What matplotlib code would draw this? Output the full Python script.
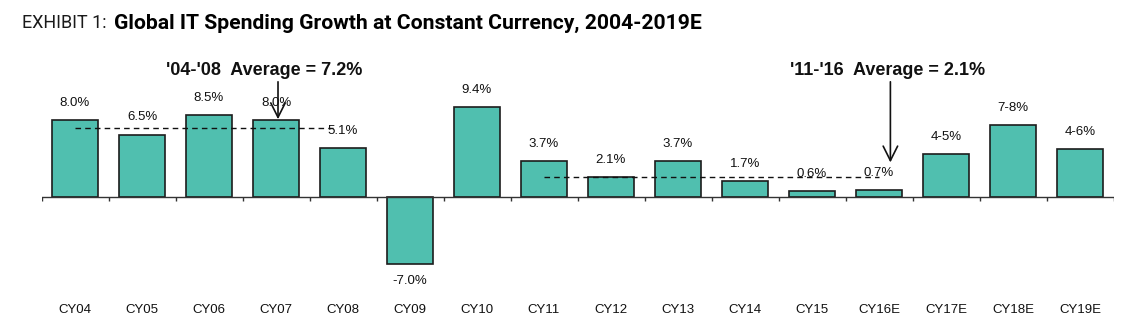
import matplotlib
matplotlib.use("Agg")
import matplotlib.pyplot as plt

categories = ["CY04", "CY05", "CY06", "CY07", "CY08", "CY09", "CY10", "CY11",
              "CY12", "CY13", "CY14", "CY15", "CY16E", "CY17E", "CY18E", "CY19E"]
growth = [8.0, 6.5, 8.5, 8.0, 5.1, -7.0, 9.4, 3.7, 2.1, 3.7, 1.7, 0.6, 0.7, 4.5, 7.5, 5.0]
value_labels = ["8.0%", "6.5%", "8.5%", "8.0%", "5.1%", "-7.0%", "9.4%", "3.7%",
                "2.1%", "3.7%", "1.7%", "0.6%", "0.7%", "4-5%", "7-8%", "4-6%"]
avg_early = 7.2
avg_late = 2.1

plt.rcParams["font.family"] = ["Liberation Sans", "DejaVu Sans"]

W, H = 1121, 323
fig = plt.figure(figsize=(W / 100, H / 100), dpi=100)
ax_left, ax_right = 41.5 / W, 1113.5 / W
ax_bottom_px, ax_top_px = 295, 60
ax = fig.add_axes([ax_left, 1 - ax_bottom_px / H, ax_right - ax_left,
                   (ax_bottom_px - ax_top_px) / H])
ppu = 9.6
zero_px = 197
ax.set_xlim(-0.5, len(categories) - 0.5)
ax.set_ylim(-(ax_bottom_px - zero_px) / ppu, (zero_px - ax_top_px) / ppu)
ax.axis("off")

x = list(range(len(categories)))
ax.bar(x, growth, width=0.69, color="#50BFAF", edgecolor="#1c1c1c", linewidth=1.2, zorder=2)

# baseline with small ticks between categories
ax.axhline(0, color="#333333", linewidth=1.0, zorder=3)
ax.vlines([i - 0.5 for i in range(len(categories) + 1)], -0.45, 0,
          color="#333333", linewidth=1.0, zorder=3)

for xi, v, lab in zip(x, growth, value_labels):
    if v >= 0:
        ax.annotate(lab, (xi, v), xytext=(0, 8), textcoords="offset points",
                    ha="center", va="bottom", fontsize=9.5, color="#111111", zorder=4)
    else:
        ax.annotate(lab, (xi, v), xytext=(0, -8), textcoords="offset points",
                    ha="center", va="top", fontsize=9.5, color="#111111", zorder=4)

for xi, c in zip(x, categories):
    fig.text(ax_left + (xi + 0.5) / len(categories) * (ax_right - ax_left), 1 - 310 / H, c,
             ha="center", va="center", fontsize=9.5, color="#111111")

# period averages
ax.plot([0, 3.85], [avg_early, avg_early], color="#111111", linestyle=(0, (4, 3)),
        linewidth=1.0, zorder=3)
ax.plot([7, 12], [avg_late, avg_late], color="#111111", linestyle=(0, (4, 3)),
        linewidth=1.0, zorder=3)

ax.annotate("", xy=(3.03, 8.1), xytext=(3.03, 12.0),
            arrowprops=dict(arrowstyle="->", color="#111111", lw=1.2,
                            mutation_scale=26, shrinkA=0, shrinkB=0), zorder=5)
ax.annotate("", xy=(12.17, 3.6), xytext=(12.17, 12.0),
            arrowprops=dict(arrowstyle="->", color="#111111", lw=1.2,
                            mutation_scale=26, shrinkA=0, shrinkB=0), zorder=5)

fig.text(264 / W, 1 - 70 / H, "'04-'08  Average = %.1f%%" % avg_early, ha="center",
         va="center", fontsize=13, fontweight="bold", color="#111111")
fig.text(888 / W, 1 - 70 / H, "'11-'16  Average = %.1f%%" % avg_late, ha="center",
         va="center", fontsize=13, fontweight="bold", color="#111111")

# title
t1 = fig.text(22 / W, 1 - 23 / H, "EXHIBIT 1:", ha="left", va="center",
              fontsize=13, family=["Roboto", "DejaVu Sans"], fontweight="normal",
              color="#1a1a1a")
fig.canvas.draw()
bb = t1.get_window_extent()
fig.text((bb.x1 + 8) / W, 1 - 23 / H,
         "Global IT Spending Growth at Constant Currency, 2004-2019E",
         ha="left", va="center", fontsize=15.2, fontweight="bold",
         family=["Roboto", "DejaVu Sans"], color="#000000")

fig.savefig("out.png", dpi=100, facecolor="white")
